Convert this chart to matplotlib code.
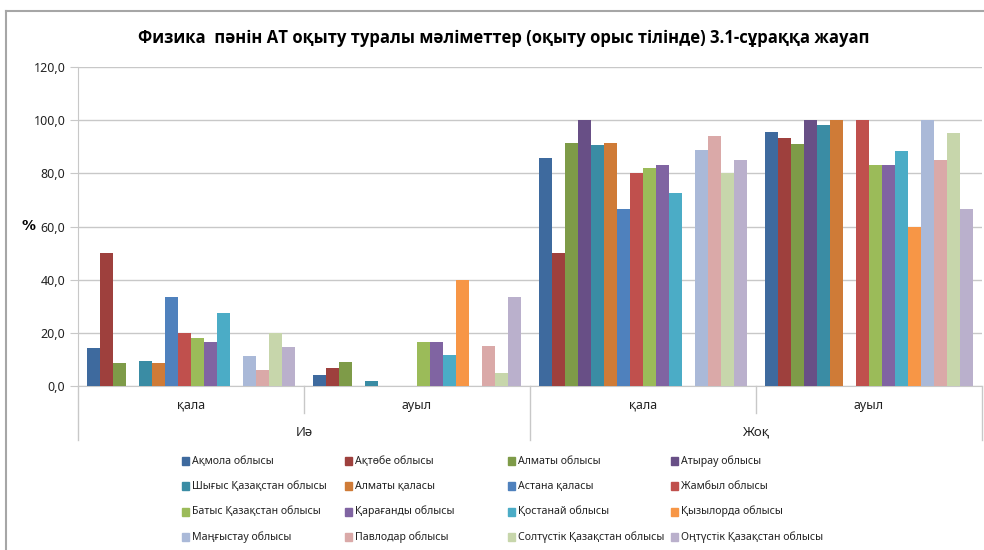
import numpy as np
import matplotlib
matplotlib.use('Agg')
from matplotlib import pyplot as plt
from matplotlib.patches import Rectangle
from matplotlib.lines import Line2D

plt.rcParams['font.family'] = ['Noto Sans', 'DejaVu Sans']

regions = ['Ақмола облысы', 'Ақтөбе облысы', 'Алматы облысы', 'Атырау облысы',
           'Шығыс Қазақстан облысы', 'Алматы қаласы', 'Астана қаласы', 'Жамбыл облысы',
           'Батыс Қазақстан облысы', 'Қарағанды облысы', 'Қостанай облысы', 'Қызылорда облысы',
           'Маңғыстау облысы', 'Павлодар облысы', 'Солтүстік Қазақстан облысы', 'Оңтүстік Қазақстан облысы']

colors = ['#3E6A9E', '#9E403D', '#7E9B48', '#684F86', '#3A8CA4', '#CF7B37',
          '#4F81BD', '#C0504D', '#9BBB59', '#8064A2', '#4BACC6', '#F79646',
          '#AAB9D8', '#DAA9A8', '#C7D6AB', '#BAB0CC']

sub_labels = ['қала', 'ауыл', 'қала', 'ауыл']
main_labels = ['Иә', 'Жоқ']

# values per group, in region order
yes_city  = [14.3, 50.0, 8.6, 0.0, 9.5, 8.6, 33.3, 20.0, 18.0, 16.7, 27.3, 0.0, 11.1, 6.1, 20.0, 14.8]
yes_rural = [4.3, 6.7, 8.9, 0.0, 1.8, 0.0, 0.0, 0.0, 16.7, 16.7, 11.5, 40.0, 0.0, 15.0, 5.0, 33.3]
no_city   = [85.7, 50.0, 91.4, 100.0, 90.5, 91.4, 66.7, 80.0, 82.0, 83.3, 72.7, 0.0, 88.9, 93.9, 80.0, 85.2]
no_rural  = [95.7, 93.3, 91.1, 100.0, 98.2, 100.0, 0.0, 100.0, 83.3, 83.3, 88.5, 60.0, 100.0, 85.0, 95.0, 66.7]

data = np.array([yes_city, yes_rural, no_city, no_rural])

fig = plt.figure(figsize=(9.84, 5.5), dpi=100)
W, H = 984, 550
ax = fig.add_axes([78 / W, 1 - 386 / H, (982 - 78) / W, (386 - 67) / H])

n = len(regions)
w = 13 / 226
x = np.arange(data.shape[0])
for i in range(n):
    ax.bar(x + (i - (n - 1) / 2) * w, data[:, i], w, color=colors[i], linewidth=0, zorder=3)

ax.set_xlim(-0.5, 3.5)
ax.set_ylim(0, 120)
ax.set_yticks(np.arange(0, 121, 20))
ax.set_yticklabels(['{:.1f}'.format(v).replace('.', ',') for v in np.arange(0, 121, 20)],
                   fontsize=9, color='#222222')
ax.yaxis.grid(True, color='#C8C8C8', linewidth=1, zorder=0)
ax.set_xticks([])
for s in ['top', 'right']:
    ax.spines[s].set_visible(False)
ax.spines['left'].set_color('#C8C8C8')
ax.spines['bottom'].set_color('#C8C8C8')
ax.tick_params(axis='y', length=6, color='#C8C8C8', pad=3)
ax.set_ylabel('%', rotation=0, fontsize=10, fontweight='bold', family=['DejaVu Sans'],
              labelpad=4, va='center')

# two-level category axis
trans = ax.get_xaxis_transform()
for xb, depth in [(-0.5, -0.169), (0.5, -0.085), (1.5, -0.169), (2.5, -0.085), (3.5, -0.169)]:
    ax.plot([xb, xb], [0, depth], transform=trans, color='#C8C8C8', lw=1, clip_on=False)
for i, lab in enumerate(sub_labels):
    ax.text(i, -0.06, lab, transform=trans, ha='center', va='center', fontsize=9, color='#222222')
for i, lab in enumerate(main_labels):
    ax.text(0.5 + 2 * i, -0.145, lab, transform=trans, ha='center', va='center', fontsize=9.5, color='#222222')

fig.suptitle('Физика  пәнін АТ оқыту туралы мәліметтер (оқыту орыс тілінде) 3.1-сұраққа жауап',
             x=504 / W, y=1 - 38 / H, fontsize=12, fontweight='bold',
             family=['Open Sans', 'DejaVu Sans'], va='center')

# legend, 4 equal columns
for i, name in enumerate(regions):
    r, c = divmod(i, 4)
    lx = 182 + c * 163
    ly = 461 + r * 25.3
    fig.patches.append(Rectangle((lx / W, 1 - (ly + 4) / H), 7 / W, 8 / H,
                                 transform=fig.transFigure, color=colors[i], figure=fig))
    fig.text((lx + 10) / W, 1 - ly / H, name, fontsize=7.6, va='center', ha='left', color='#222222')

# outer frame
fig.lines.append(Line2D([6 / W, 1], [1 - 11 / H, 1 - 11 / H], transform=fig.transFigure,
                        color='#A6A6A6', lw=1.5))
fig.lines.append(Line2D([6 / W, 6 / W], [0, 1 - 11 / H], transform=fig.transFigure,
                        color='#A6A6A6', lw=1.5))

plt.savefig('out.png', dpi=100)
